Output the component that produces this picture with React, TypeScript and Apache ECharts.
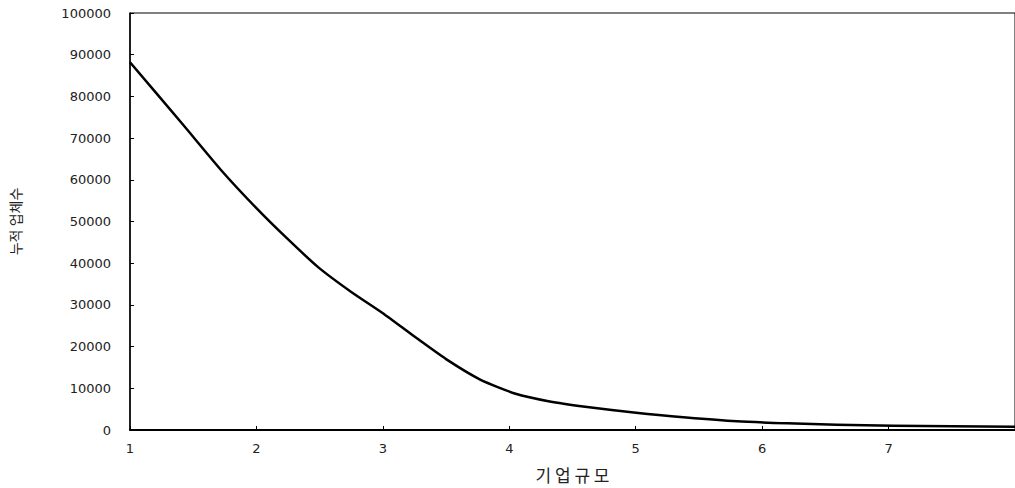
import React, { useEffect, useRef } from "react";
import * as echarts from "echarts";

const xValues = [1.0, 1.42, 1.73, 2.0, 2.23, 2.49, 2.75, 3.0, 3.25, 3.5, 3.77, 4.05, 4.32, 4.6, 5.02, 5.4, 5.8, 6.2, 6.59, 7.04, 8.0];
const yValues = [88200, 73200, 62000, 53200, 46300, 39000, 33100, 28000, 22400, 17000, 12100, 8700, 6850, 5600, 4050, 3000, 2100, 1600, 1250, 1000, 800];
const yTicks = [0, 10000, 20000, 30000, 40000, 50000, 60000, 70000, 80000, 90000, 100000];
const xTicks = [1, 2, 3, 4, 5, 6, 7];

export default function App() {
  const ref = useRef<HTMLDivElement>(null);
  useEffect(() => {
    if (!ref.current) return;
    const chart = echarts.init(ref.current, null, { renderer: "svg" });
    const labelStyle = { color: "#222", fontSize: 13, fontFamily: "DejaVu Sans" };
    chart.setOption({
      animation: false,
      backgroundColor: "#fff",
      grid: {
        left: 127,
        right: -4.5,
        top: 13,
        bottom: 56,
        show: true,
        borderColor: "#000",
        borderWidth: 1,
        backgroundColor: "transparent",
      },
      xAxis: {
        type: "value",
        min: 1,
        max: 8,
        interval: 1,
        name: "기 업 규 모",
        nameLocation: "middle",
        nameGap: 36,
        nameTextStyle: { color: "#222", fontSize: 17, fontFamily: "Noto Sans CJK KR" },
        axisLine: { show: true, lineStyle: { color: "#000", width: 2 } },
        axisTick: { show: true, inside: true, length: 4, lineStyle: { color: "#000" } },
        axisLabel: {
          ...labelStyle,
          margin: 12,
          showMaxLabel: false,
          formatter: (v: number) => (xTicks.includes(v) ? String(v) : ""),
        },
        splitLine: { show: false },
      },
      yAxis: {
        type: "value",
        min: 0,
        max: 100000,
        interval: 10000,
        name: "누적 업체수",
        nameLocation: "middle",
        nameGap: 108,
        nameRotate: 90,
        nameTextStyle: { color: "#222", fontSize: 14, fontFamily: "Noto Sans CJK KR" },
        axisLine: { show: true, lineStyle: { color: "#000", width: 1.5 } },
        axisTick: { show: true, inside: true, length: 4, lineStyle: { color: "#000" } },
        axisLabel: {
          ...labelStyle,
          margin: 19,
          formatter: (v: number) => (yTicks.includes(v) ? String(v) : ""),
        },
        splitLine: { show: false },
      },
      series: [
        {
          type: "line",
          data: xValues.map((x, i) => [x, yValues[i]]),
          smooth: 0.2,
          showSymbol: false,
          lineStyle: { color: "#000", width: 2.5, join: "round" },
        },
      ],
    });
    return () => chart.dispose();
  }, []);
  return (
    <div
      ref={ref}
      style={{ position: "fixed", left: 0, top: 0, width: 1015, height: 488, background: "#fff" }}
    />
  );
}
